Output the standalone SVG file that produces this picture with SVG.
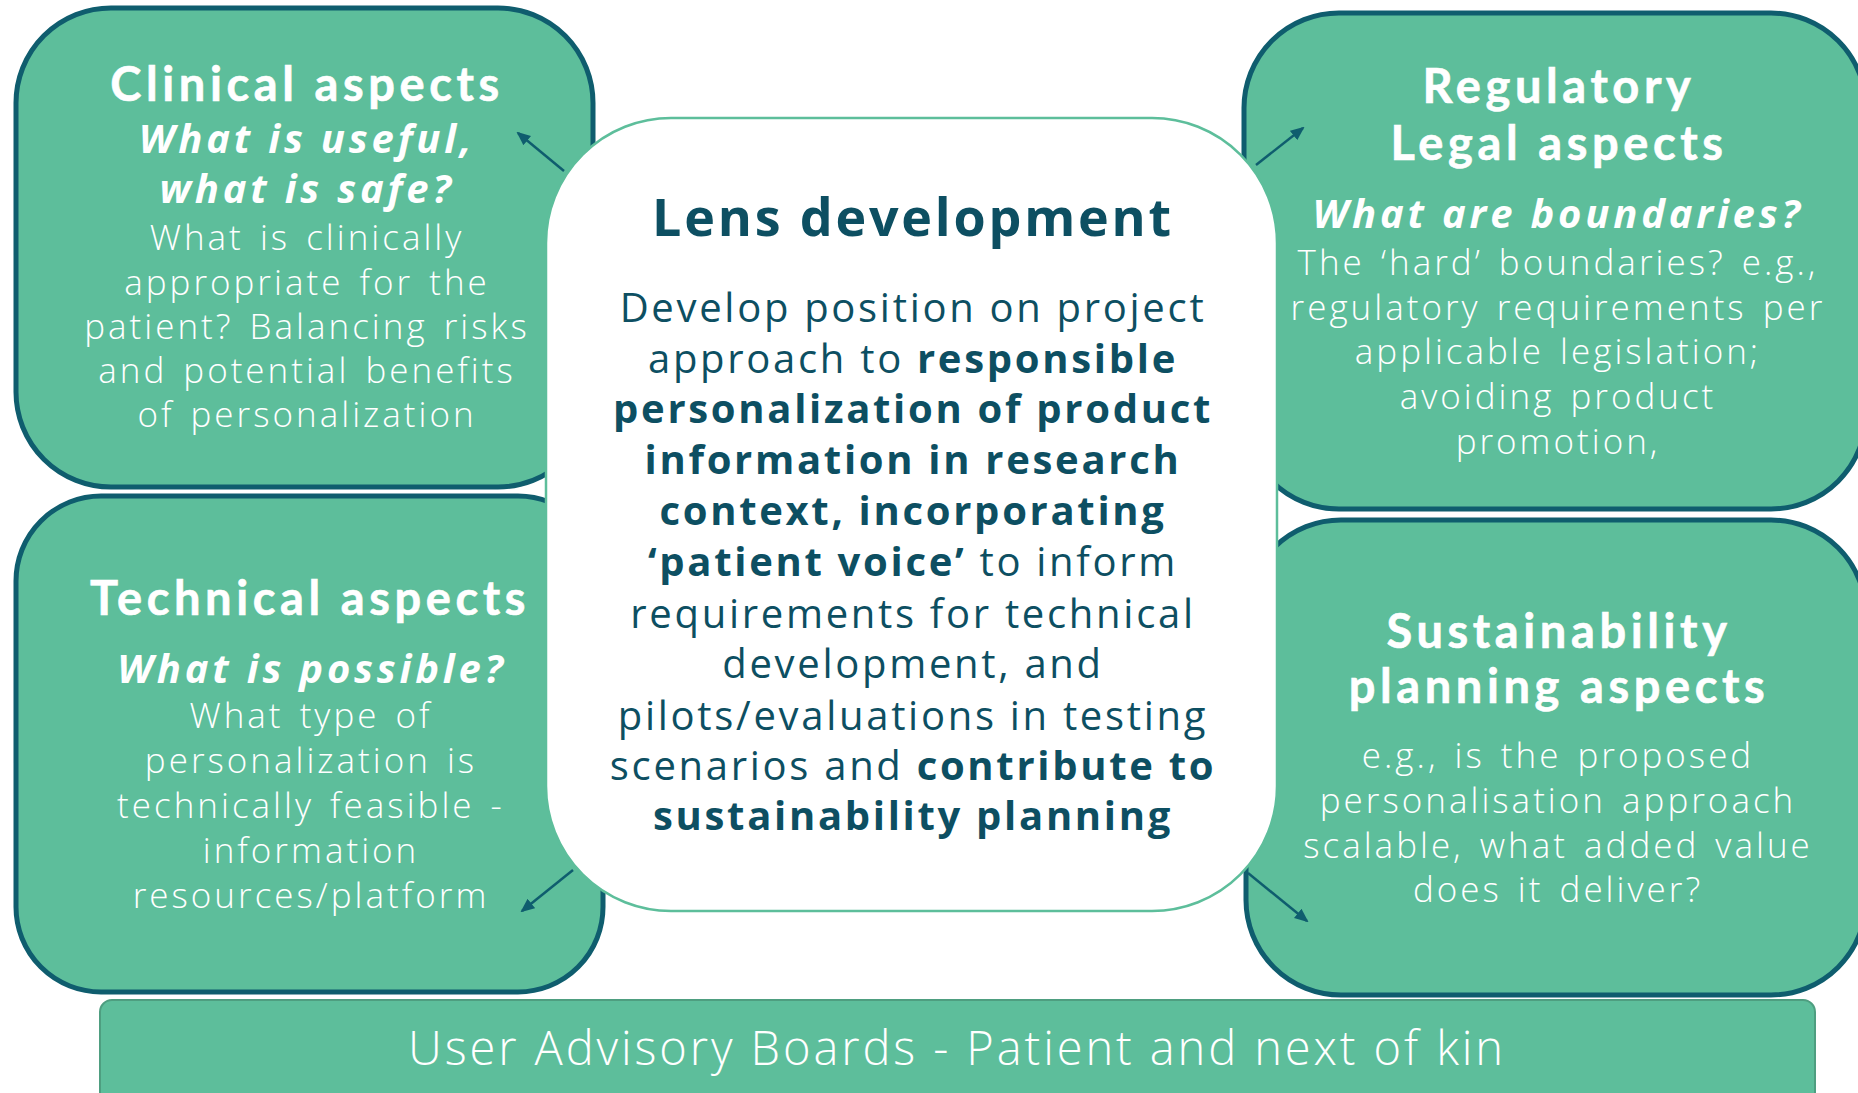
<svg xmlns="http://www.w3.org/2000/svg" width="1858" height="1093" viewBox="0 0 1858 1093">
<style>
.box{fill:#5dbe9b;stroke:#0f5d6e;stroke-width:5}
.center{fill:#ffffff;stroke:#5dbe9b;stroke-width:2.5}
.bar{fill:#5dbe9b;stroke:#4e9e80;stroke-width:2}
text{font-family:"Open Sans","Liberation Sans",sans-serif;text-anchor:middle}
.h{font-family:Lato,"Open Sans",sans-serif;font-weight:700;font-size:47px;fill:#ffffff;letter-spacing:4.6px;stroke:#ffffff;stroke-width:0.6px}
.q{font-weight:700;font-style:italic;font-size:40px;fill:#ffffff;letter-spacing:3.8px}
.b{font-weight:300;font-size:35px;fill:#ffffff;letter-spacing:3px;word-spacing:4px}
.ct{font-weight:700;font-size:52px;fill:#0d4f62;letter-spacing:2.8px}
.cb{font-weight:400;font-size:40px;fill:#0d4f62;letter-spacing:2.7px}
.bold{font-weight:700}
.foot{font-weight:300;font-size:47px;fill:#ffffff;letter-spacing:2.9px}
.conn{stroke:#0f5d6e;stroke-width:2.5;fill:none}
</style>
<defs>
<marker id="ah" markerWidth="14" markerHeight="14" refX="12" refY="7" orient="auto" markerUnits="userSpaceOnUse" viewBox="0 0 14 14">
<path d="M0,1 L14,7 L0,13 z" fill="#0f5d6e"/>
</marker>
</defs>
<rect x="0" y="0" width="1858" height="1093" fill="#ffffff"/>
<g id="clinical">
<rect class="box" x="16" y="8" width="577" height="479" rx="95"/>
<text class="h" x="307" y="101">Clinical aspects</text>
<text class="q" x="307" y="153">What is useful,</text>
<text class="q" x="307" y="203">what is safe?</text>
<text class="b" x="307" y="250">What is clinically</text>
<text class="b" x="307" y="295">appropriate for the</text>
<text class="b" x="307" y="339">patient? Balancing risks</text>
<text class="b" x="307" y="383">and potential benefits</text>
<text class="b" x="307" y="427">of personalization</text>
</g>
<g id="technical">
<rect class="box" x="16" y="496" width="587" height="496" rx="85"/>
<text class="h" x="310" y="615">Technical aspects</text>
<text class="q" x="312" y="683">What is possible?</text>
<text class="b" x="311" y="728">What type of</text>
<text class="b" x="311" y="773">personalization is</text>
<text class="b" x="311" y="818">technically feasible  -</text>
<text class="b" x="311" y="863">information</text>
<text class="b" x="311" y="908">resources/platform</text>
</g>
<g id="regulatory">
<rect class="box" x="1244" y="13" width="622" height="496" rx="95"/>
<text class="h" x="1559" y="103">Regulatory</text>
<text class="h" x="1559" y="160">Legal aspects</text>
<text class="q" x="1558" y="228">What are boundaries?</text>
<text class="b" x="1558" y="275">The ‘hard’ boundaries? e.g.,</text>
<text class="b" x="1558" y="320">regulatory requirements per</text>
<text class="b" x="1558" y="364">applicable legislation;</text>
<text class="b" x="1558" y="409">avoiding product</text>
<text class="b" x="1558" y="454">promotion,</text>
</g>
<g id="sustainability">
<rect class="box" x="1246" y="520" width="620" height="475" rx="95"/>
<text class="h" x="1559" y="648">Sustainability</text>
<text class="h" x="1559" y="703">planning aspects</text>
<text class="b" x="1558" y="768">e.g., is the proposed</text>
<text class="b" x="1558" y="813">personalisation approach</text>
<text class="b" x="1558" y="858">scalable, what added value</text>
<text class="b" x="1558" y="902">does it deliver?</text>
</g>
<g id="lens">
<rect class="center" x="546" y="118" width="731" height="793" rx="125"/>
<text class="ct" x="913" y="236">Lens development</text>
<text class="cb" x="913" y="322">Develop position on project</text>
<text class="cb" x="913" y="373">approach to <tspan class="bold">responsible</tspan></text>
<text class="cb bold" x="913" y="423">personalization of product</text>
<text class="cb bold" x="913" y="474">information in research</text>
<text class="cb bold" x="913" y="525">context, incorporating</text>
<text class="cb" x="913" y="576"><tspan class="bold">‘patient voice’</tspan> to inform</text>
<text class="cb" x="913" y="628">requirements for technical</text>
<text class="cb" x="913" y="678">development, and</text>
<text class="cb" x="913" y="730">pilots/evaluations in testing</text>
<text class="cb" x="913" y="780">scenarios and <tspan class="bold">contribute to</tspan></text>
<text class="cb bold" x="913" y="830">sustainability planning</text>
</g>
<g id="connectors">
<line class="conn" x1="564" y1="171" x2="518" y2="133" marker-end="url(#ah)"/>
<line class="conn" x1="1256" y1="165" x2="1303" y2="128" marker-end="url(#ah)"/>
<line class="conn" x1="573" y1="870" x2="522" y2="911" marker-end="url(#ah)"/>
<line class="conn" x1="1248" y1="873" x2="1307" y2="921" marker-end="url(#ah)"/>
</g>
<g id="uab">
<rect class="bar" x="100" y="1000" width="1715" height="120" rx="12"/>
<text class="foot" x="957" y="1065">User Advisory Boards - Patient and next of kin</text>
</g>
</svg>
